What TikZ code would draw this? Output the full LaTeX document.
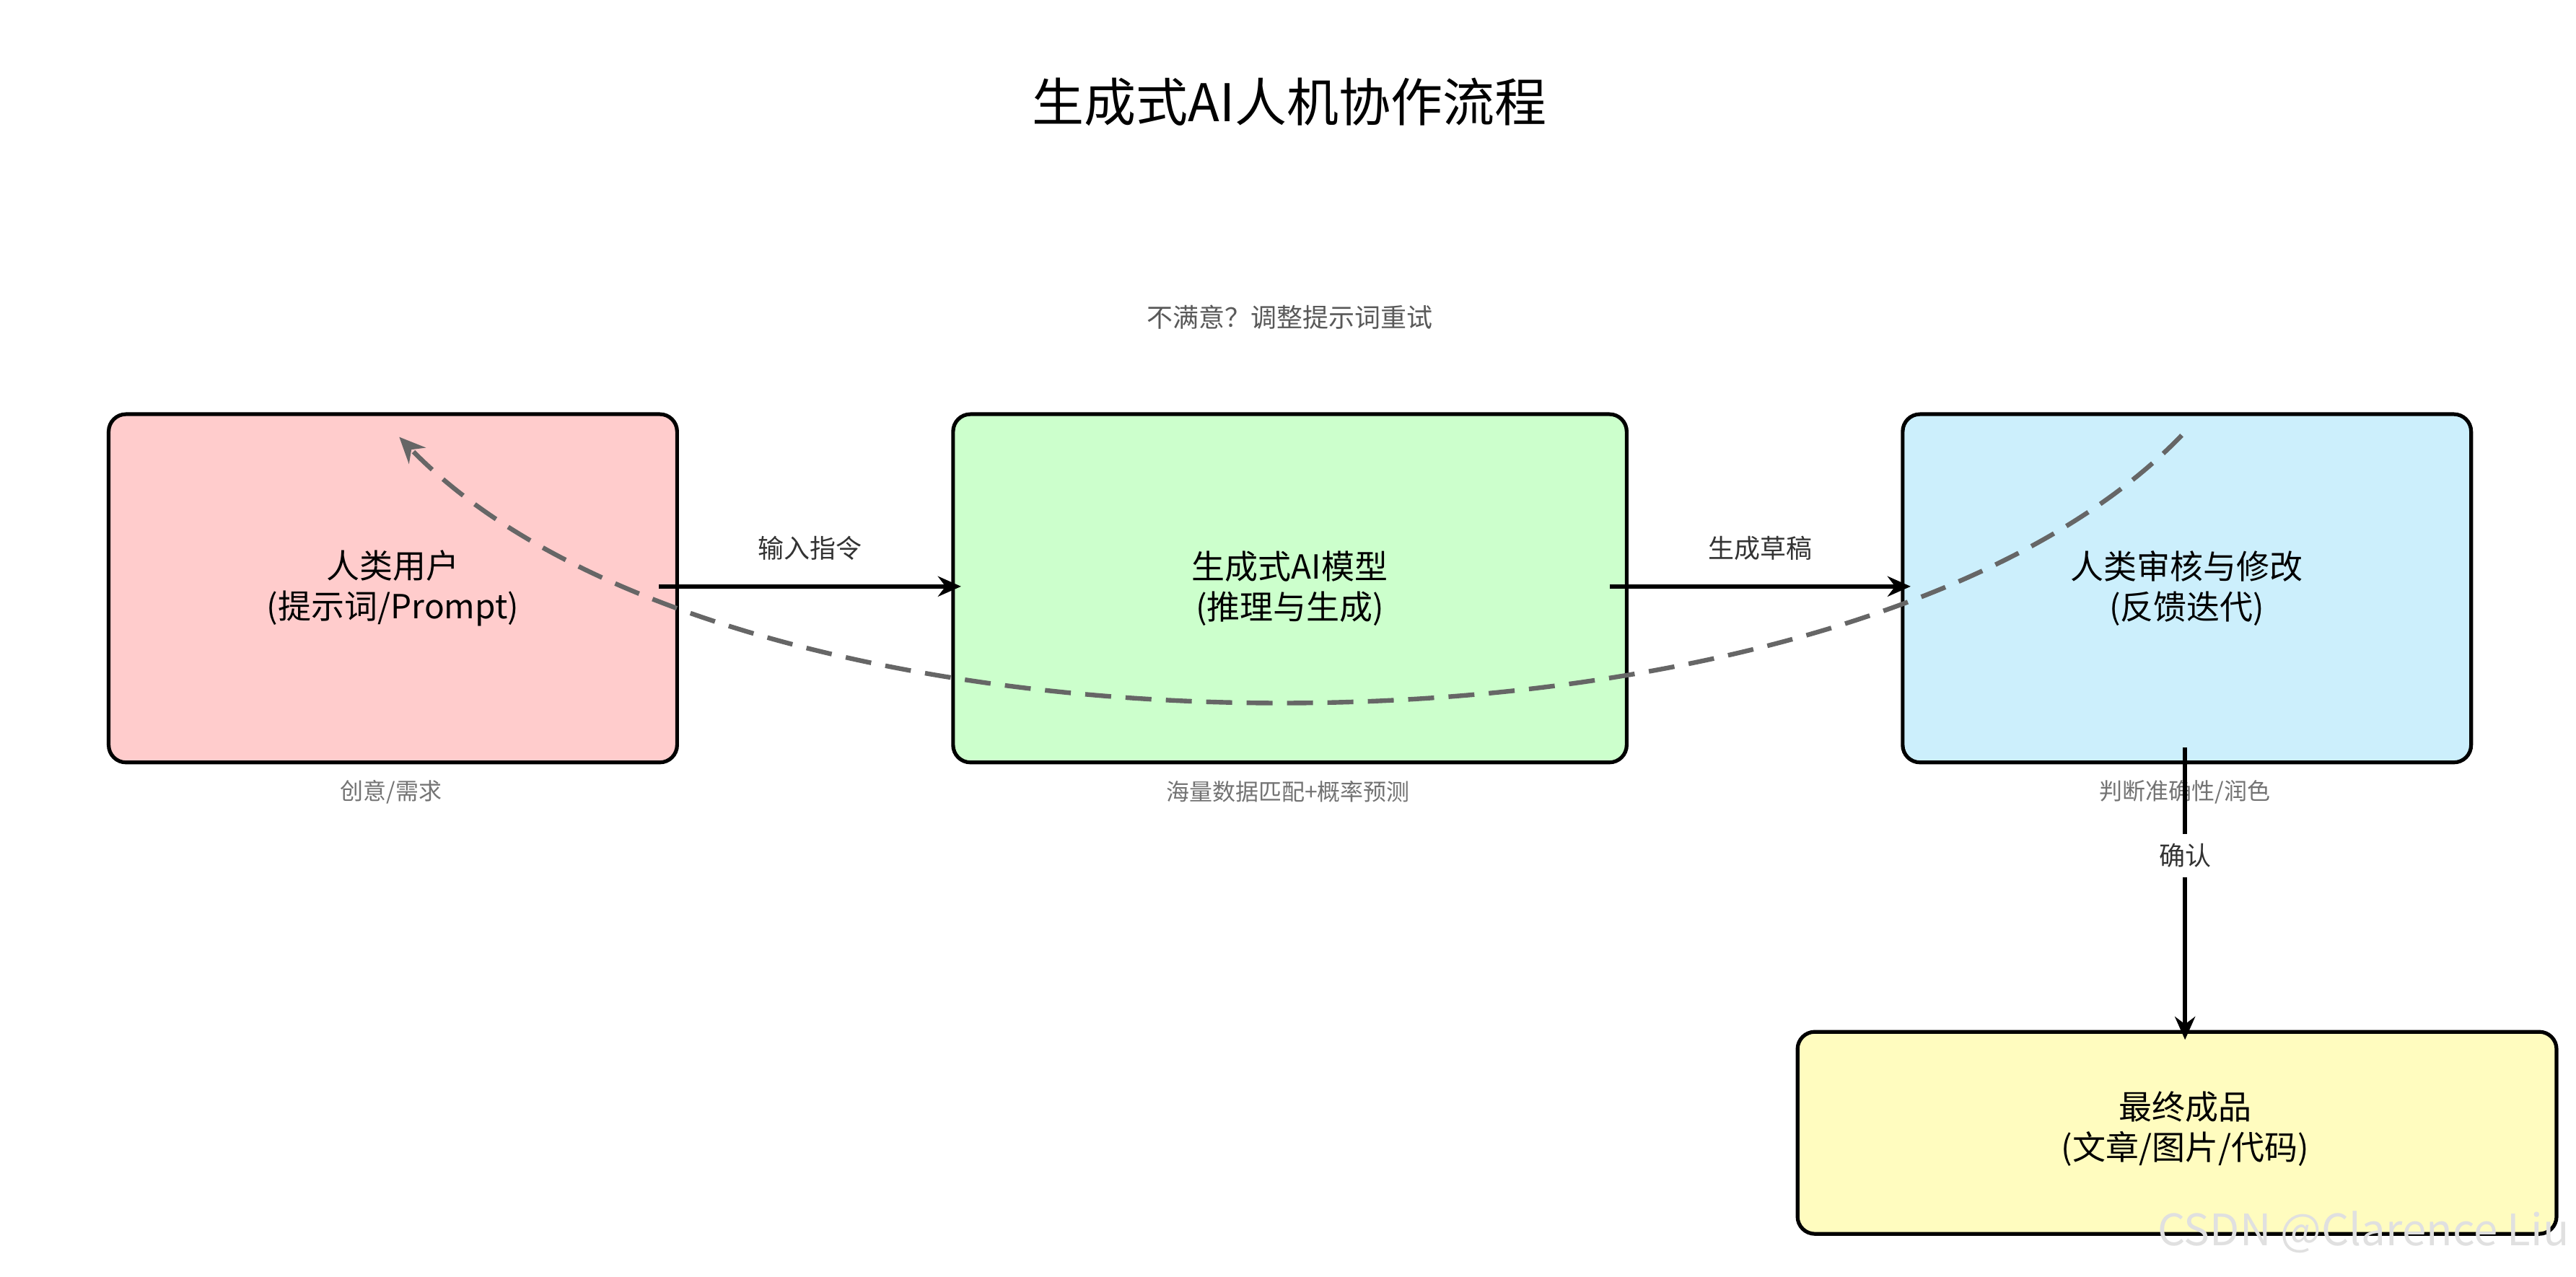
\documentclass[tikz,border=0pt]{standalone}
\usepackage{fontspec}
\setmainfont{Noto Sans CJK SC}
\usetikzlibrary{arrows.meta}
\tikzset{
  box/.style={draw=black, line width=1.3pt, rounded corners=6pt, anchor=north west},
  boxtext/.style={font=\fontsize{11.5}{14}\selectfont, align=center},
  lbl/.style={font=\fontsize{9}{11}\selectfont, text=black!80},
  captxt/.style={font=\fontsize{8}{10}\selectfont, text=black!55},
  flow/.style={-{Stealth[length=8pt, width=7pt]}, line width=1.5pt}
}
\begin{document}
\begin{tikzpicture}[x=0.02cm, y=-0.02cm]
\useasboundingbox (0,0) rectangle (1568,777);
% title
\node[font=\fontsize{18}{21}\selectfont] (title) at (785,62) {生成式AI人机协作流程};
% boxes
\node[box, fill=red!20, minimum width=346*0.02cm, minimum height=212*0.02cm] (user) at (65,251) {};
\node[box, fill=green!20, minimum width=410*0.02cm, minimum height=212*0.02cm] (model) at (579,251) {};
\node[box, fill=cyan!20, minimum width=346*0.02cm, minimum height=212*0.02cm] (review) at (1157,251) {};
\node[box, fill=yellow!25, minimum width=462*0.02cm, minimum height=123*0.02cm] (final) at (1093,627) {};
\node[boxtext] at (user.center) {人类用户\\(提示词/Prompt)};
\node[boxtext] at (model.center) {生成式AI模型\\(推理与生成)};
\node[boxtext] at (review.center) {人类审核与修改\\(反馈迭代)};
\node[boxtext] at (1330,687) {最终成品\\(文章/图片/代码)};
% captions
\node[captxt] at (238,482) {创意/需求};
\node[captxt] at (784,482) {海量数据匹配+概率预测};
\node[captxt] at (1330,482) {判断准确性/润色};
% connectors
\coordinate (a1) at (401,357); \coordinate (a2) at (585,357);
\coordinate (b1) at (980,357); \coordinate (b2) at (1163,357);
\coordinate (c1) at (1330,455); \coordinate (c2) at (1330,633);
\draw[flow] (a1) -- node[lbl, above=5pt] {输入指令} (a2);
\draw[flow] (b1) -- node[lbl, above=5pt] {生成草稿} (b2);
\draw[flow] (c1) -- node[lbl, fill=white, pos=0.37] {确认} (c2);
% feedback loop
\coordinate (f1) at (1328,265); \coordinate (f2) at (243,266);
\draw[-{Stealth[length=9pt, width=8pt]}, dashed, dash pattern=on 9pt off 5pt, line width=1.6pt, draw=black!60]
  (f1) .. controls (1120,481) and (450,481) .. (f2);
\node[lbl, text=black!65] (retry) at (785,193) {不满意？调整提示词重试};
% watermark
\node[font=\fontsize{15}{17}\selectfont, text=black!12, anchor=east] (mark) at (1570,750) {CSDN @Clarence Liu};
\end{tikzpicture}
\end{document}
